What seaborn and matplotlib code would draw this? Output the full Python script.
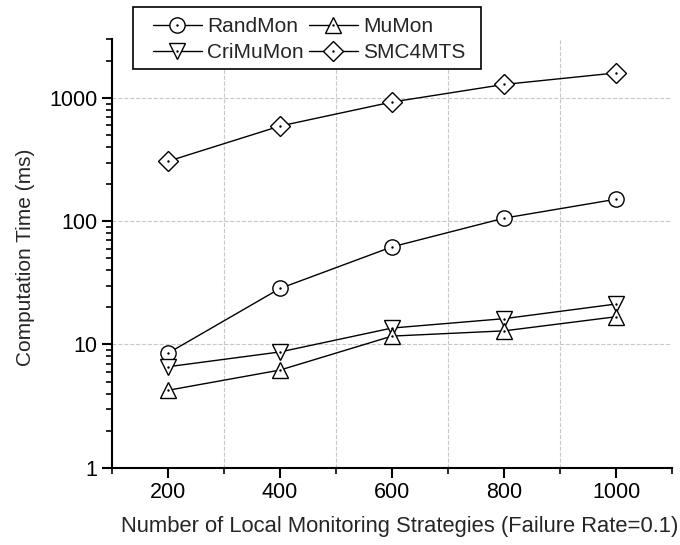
import matplotlib
matplotlib.use('Agg')
import matplotlib.pyplot as plt
import matplotlib.patches as mpatches
import seaborn as sns
from matplotlib.ticker import FixedLocator, FuncFormatter, LogLocator, NullFormatter
from matplotlib.legend_handler import HandlerTuple

# data
strategies = [200, 400, 600, 800, 1000]
rand_mon = [8.5, 28.5, 62, 106, 151]
mu_mon = [4.25, 6.2, 11.7, 12.9, 16.8]
cri_mu_mon = [6.6, 8.7, 13.6, 16.2, 21.3]
smc4mts = [307, 593, 929, 1290, 1600]

series_names = ['RandMon', 'CriMuMon', 'MuMon', 'SMC4MTS']
series_values = [rand_mon, cri_mu_mon, mu_mon, smc4mts]
series_markers = ['o', 'v', '^', 'D']
series_sizes = [11, 12, 12, 10]

x_ticks = [200, 400, 600, 800, 1000]
x_minor = [100, 300, 500, 700, 900, 1100]
x_grid = [300, 500, 700, 900]
y_ticks = [1, 10, 100, 1000]

sns.set_style('ticks')
plt.rcParams['font.family'] = ['Liberation Sans', 'DejaVu Sans']
fs = 15.5

fig = plt.figure(figsize=(6.8, 5.45), dpi=100)
ax = fig.add_axes([112/680, 1-467.7/545, (672-112)/680, (467.7-39.3)/545])

handles = []
for name, vals, mk, ms in zip(series_names, series_values, series_markers, series_sizes):
    sns.lineplot(x=strategies, y=vals, ax=ax, color='black', linewidth=1.0,
                 marker=mk, markersize=ms, markerfacecolor='white',
                 markeredgecolor='black', markeredgewidth=1.0, zorder=3)
    line = ax.get_lines()[-1]
    dots = ax.plot(strategies, vals, linestyle='none', marker='.', markersize=1.5,
                   color='black', zorder=4)[0]
    handles.append((line, dots))

ax.set_yscale('log')
ax.set_ylim(1, 3000)
ax.set_xlim(100, 1100)

ax.xaxis.set_major_locator(FixedLocator(x_ticks))
ax.xaxis.set_minor_locator(FixedLocator(x_minor))
ax.yaxis.set_major_locator(FixedLocator(y_ticks))
ax.yaxis.set_minor_locator(LogLocator(base=10, subs=range(2, 10)))
ax.yaxis.set_major_formatter(FuncFormatter(lambda v, p: '%d' % v))
ax.yaxis.set_minor_formatter(NullFormatter())

for g in x_grid:
    ax.axvline(g, color='#c8c8c8', linestyle='--', linewidth=0.8, zorder=0)
for g in y_ticks[1:]:
    ax.axhline(g, color='#c8c8c8', linestyle='--', linewidth=0.8, zorder=0)

for side in ['top', 'right']:
    ax.spines[side].set_visible(False)
for side in ['left', 'bottom']:
    ax.spines[side].set_linewidth(1.5)
    ax.spines[side].set_color('black')

ax.tick_params(which='major', direction='out', length=7, width=1.5, labelsize=fs, colors='black')
ax.tick_params(which='minor', direction='out', length=4, width=1.2, colors='black')

ax.set_xlabel('Number of Local Monitoring Strategies (Failure Rate=0.1)', fontsize=15.8)
ax.set_ylabel('Computation Time (ms)', fontsize=15)
ax.xaxis.set_label_coords(0.513, -0.113)
ax.yaxis.set_label_coords(-0.1375, 0.49)

# legend without its own frame, box drawn separately
leg = ax.legend(handles, series_names, ncol=2, loc='upper left',
                bbox_to_anchor=(153/680, 1-17/545), bbox_transform=fig.transFigure,
                borderaxespad=0, borderpad=0, fontsize=15, frameon=False,
                handlelength=2.35, handletextpad=0.25, columnspacing=0.25,
                labelspacing=0.35,
                handler_map={tuple: HandlerTuple(ndivide=1, pad=0)})
box = mpatches.Rectangle((133/680, 1-69/545), (481-133)/680, 62/545,
                         transform=fig.transFigure, fill=True, facecolor='white',
                         edgecolor='black', linewidth=1.2, zorder=5)
fig.add_artist(box)
leg.set_zorder(6)
fig.add_artist(leg)

fig.savefig('out.png', dpi=100)
